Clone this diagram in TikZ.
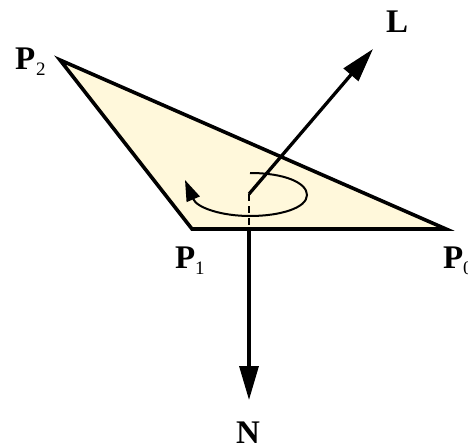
\documentclass[tikz,border=0pt]{standalone}
\usepackage{fontspec}
\setmainfont{Liberation Serif}
\usetikzlibrary{arrows.meta}
\definecolor{tri}{RGB}{255,248,219}
\tikzset{
  lab/.style={anchor=base west,inner sep=0pt,font=\fontsize{33}{33}\selectfont\bfseries},
  subl/.style={anchor=base west,inner sep=0pt,font=\fontsize{19}{19}\selectfont},
  vec/.style={line width=3.3pt,-{Triangle[length=34pt,width=19pt]}},
  edge/.style={line width=3.6pt,line join=miter,miter limit=10,fill=tri},
  spin/.style={line width=2pt,-{Triangle[length=21pt,width=14pt]}}
}
\begin{document}
\begin{tikzpicture}[x=1pt,y=-1pt]
\useasboundingbox (0,0) rectangle (468,447);
\clip (0,0) rectangle (468,447);
\coordinate (P0) at (446,229);
\coordinate (P1) at (192,229);
\coordinate (P2) at (60,60);
\coordinate (O) at (249,194);
\coordinate (LT) at (373,49);
\coordinate (NT) at (249,400);
\coordinate (F) at (249,229);
\draw[edge] (P0) -- (P1) -- (P2) -- cycle;
\draw[spin] (250,173) .. controls (285,173) and (307,183) .. (307,195)
  .. controls (307,208) and (280,216) .. (250,216)
  .. controls (222,216) and (197,208) .. (185,180);
\draw[line width=2pt,dash pattern=on 7pt off 5pt] (O) -- (F);
\draw[vec] (O) -- (LT);
\draw[vec] (F) -- (NT);
\node[lab] (p2) at (15,69) {P};
\node[subl] (s2) at (36,75) {2};
\node[lab] (p1) at (175,268) {P};
\node[subl] (s1) at (195,274) {1};
\node[lab] (p0) at (443,268) {P};
\node[subl] (s0) at (463,274) {0};
\node[lab] (l) at (386,32) {L};
\node[lab] (n) at (236,443) {N};
\end{tikzpicture}
\end{document}
